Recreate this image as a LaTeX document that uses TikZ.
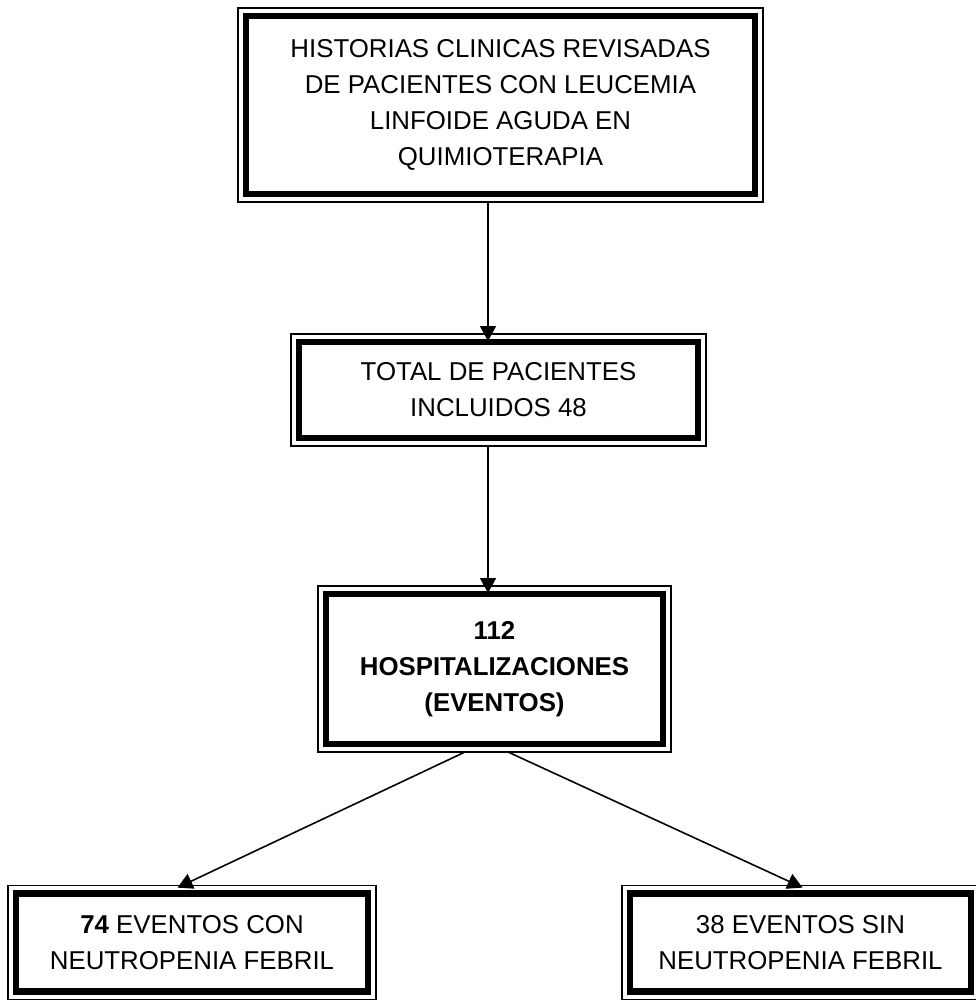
\documentclass[tikz,border=0pt]{standalone}
\usepackage{fontspec}
\setmainfont{Liberation Sans}
\usetikzlibrary{arrows.meta}
\begin{document}
\begin{tikzpicture}[x=0.02cm, y=-0.02cm, >={Triangle[width=0.32cm,length=0.3cm]},
  caja/.style={draw, line width=0.13cm, outer sep=0.16cm, align=center, inner sep=0pt,
    font=\fontsize{14.7}{20.4}\selectfont},
  borde/.style={line width=0.8pt},
  flecha/.style={->, line width=0.9pt}]

\useasboundingbox (0,0) rectangle (975,1000);

\node[caja, minimum width=10.18cm, minimum height=3.56cm] (hist) at (500.5,105)
  {HISTORIAS CLINICAS REVISADAS\\DE PACIENTES CON LEUCEMIA\\LINFOIDE AGUDA EN\\QUIMIOTERAPIA};
\node[caja, minimum width=7.98cm, minimum height=1.92cm] (total) at (498.5,390)
  {TOTAL DE PACIENTES\\INCLUIDOS 48};
\node[caja, minimum width=6.74cm, minimum height=3.0cm, font=\fontsize{14.7}{20.4}\selectfont\bfseries] (hosp) at (494.5,669)
  {112\\HOSPITALIZACIONES\\(EVENTOS)};
\node[caja, minimum width=7.04cm, minimum height=1.96cm] (confn) at (192,942.5)
  {\textbf{74} EVENTOS CON\\NEUTROPENIA FEBRIL};
\node[caja, minimum width=6.82cm, minimum height=1.96cm] (sinfn) at (800.5,942.5)
  {38 EVENTOS SIN\\NEUTROPENIA FEBRIL};

% marco fino exterior
\foreach \n in {hist,total,hosp,confn,sinfn}
  \draw[borde] (\n.north west) rectangle (\n.south east);

\draw[flecha, shorten >=-0.14cm] ([xshift=-0.25cm]hist.south) -- ([xshift=-0.21cm]total.north);
\draw[flecha, shorten >=-0.14cm] ([xshift=-0.21cm]total.south) -- ([xshift=-0.13cm]hosp.north);
\draw[flecha, shorten >=-0.1cm] ([xshift=-0.59cm]hosp.south) -- ([xshift=-0.2cm]confn.north);
\draw[flecha, shorten >=-0.1cm] ([xshift=0.27cm]hosp.south) -- ([xshift=-0.05cm]sinfn.north);

\end{tikzpicture}
\end{document}
